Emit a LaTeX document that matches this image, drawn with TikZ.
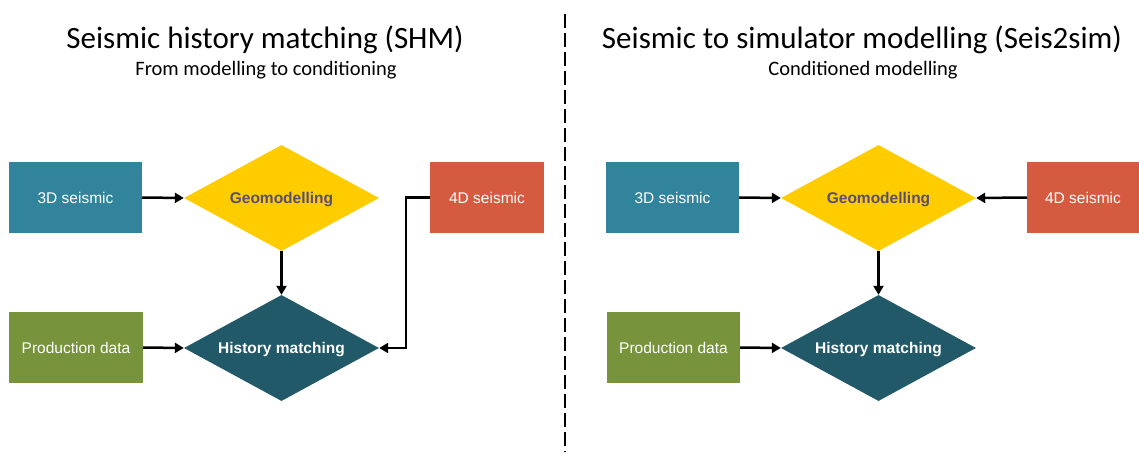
\documentclass[tikz,border=0pt]{standalone}
\usepackage{fontspec}
\setmainfont{Liberation Sans}
\newfontfamily\titlefont{Carlito}
\usetikzlibrary{shapes.geometric,arrows.meta}
\definecolor{teal3d}{HTML}{31849B}
\definecolor{geoyellow}{HTML}{FFCC00}
\definecolor{hmteal}{HTML}{215968}
\definecolor{prodgreen}{HTML}{77933C}
\definecolor{seisred}{HTML}{D45A40}
\definecolor{geotext}{HTML}{584D78}
\tikzset{
  databox/.style={draw=none, inner sep=0pt, text=white, font=\fontsize{15.5}{18}\selectfont},
  decision/.style={diamond, aspect=1.84, inner sep=0pt, draw=none, text height=11pt, text depth=1pt,
    minimum width=195pt, minimum height=106pt, font=\bfseries\fontsize{15.5}{18}\selectfont},
  flow/.style={line width=2.5pt, -{Triangle[length=9pt,width=10pt]}},
  heading/.style={font=\titlefont\fontsize{31}{36}\selectfont},
  subheading/.style={font=\titlefont\fontsize{20.5}{24}\selectfont},
}
\begin{document}
\begin{tikzpicture}[x=1pt, y=-1pt]
\useasboundingbox (0,0) rectangle (1139,452);
\fill[white] (0,0) rectangle (1139,452);

% ---- left panel: seismic history matching ----
\node[heading] (tL) at (265,40) {Seismic history matching (SHM)};
\node[subheading] (sL) at (266,70) {From modelling to conditioning};

\fill[teal3d] (9,162) rectangle (142,233);
\node[databox] (s3L) at (75.5,197.5) {3D seismic};
\coordinate (s3Le) at (142,197.5);

\fill[prodgreen] (9,312) rectangle (143,383);
\node[databox] (pdL) at (76,347.5) {Production data};
\coordinate (pdLe) at (143,347.5);

\fill[seisred] (430,162) rectangle (544,233);
\node[databox] (s4L) at (487,197.5) {4D seismic};
\coordinate (s4Lw) at (430,197.5);

\node[decision, fill=geoyellow, text=geotext] (geoL) at (281.5,198) {Geomodelling};
\node[decision, fill=hmteal, text=white] (hmL) at (281.5,348) {History matching};

\draw[flow] (s3Le) -- (geoL.west);
\draw[flow] (pdLe) -- (hmL.west);
\draw[flow] (geoL.south) -- (hmL.north);
\draw[flow] (s4Lw) -| (406,348) -- (hmL.east);

% ---- divider ----
\coordinate (divTop) at (565,14);
\coordinate (divBot) at (565,452);
\draw[line width=2pt, dash pattern=on 14pt off 5pt] (divTop) -- (divBot);

% ---- right panel: seismic to simulator modelling ----
\node[heading] (tR) at (862,40) {Seismic to simulator modelling (Seis2sim)};
\node[subheading] (sR) at (863,70) {Conditioned modelling};

\fill[teal3d] (606,162) rectangle (739,233);
\node[databox] (s3R) at (672.5,197.5) {3D seismic};
\coordinate (s3Re) at (739,197.5);

\fill[prodgreen] (607,312) rectangle (740,383);
\node[databox] (pdR) at (673.5,347.5) {Production data};
\coordinate (pdRe) at (740,347.5);

\fill[seisred] (1027,162) rectangle (1139,233);
\node[databox] (s4R) at (1083,197.5) {4D seismic};
\coordinate (s4Rw) at (1027,197.5);

\node[decision, fill=geoyellow, text=geotext] (geoR) at (878.5,198) {Geomodelling};
\node[decision, fill=hmteal, text=white] (hmR) at (878.5,348) {History matching};

\draw[flow] (s3Re) -- (geoR.west);
\draw[flow] (pdRe) -- (hmR.west);
\draw[flow] (geoR.south) -- (hmR.north);
\draw[flow] (s4Rw) -- (geoR.east);
\end{tikzpicture}
\end{document}
